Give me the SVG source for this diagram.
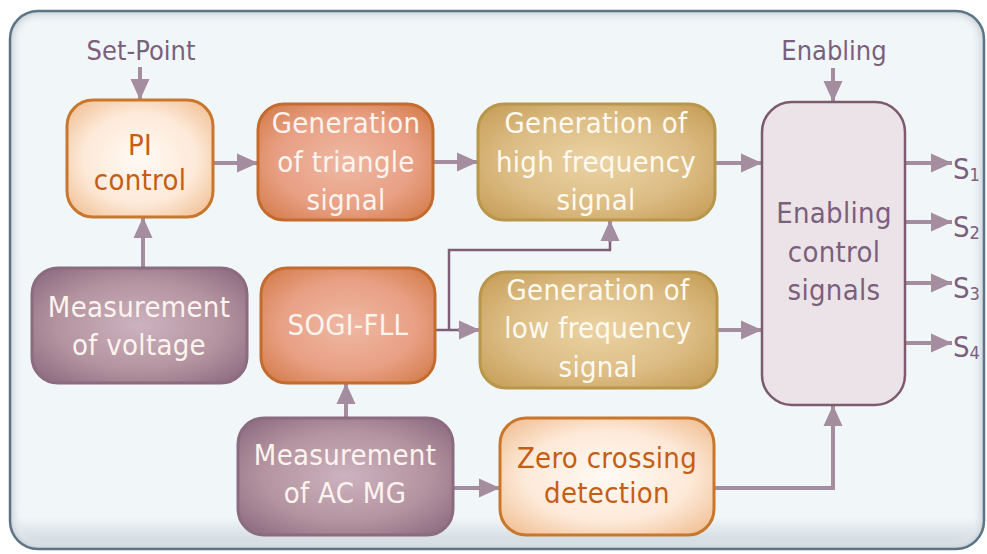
<svg xmlns="http://www.w3.org/2000/svg" width="987" height="554" viewBox="0 0 987 554">
  <defs>
    <style>
      text { font-family: "DejaVu Sans Condensed", "DejaVu Sans", "Liberation Sans", sans-serif; font-stretch: condensed; }
      .lbl { font-size: 29px; letter-spacing: 0.3px; text-anchor: middle; }
      .ext { font-size: 27px; text-anchor: middle; fill: #7b5f7d; }
      .out { font-size: 29px; fill: #7b5f7d; }
      .sub { font-size: 18px; }
      .box { stroke-width: 3; }
      .light { fill: url(#gLight); stroke: #c8772c; }
      .salmon { fill: url(#gSalmon); stroke: #c46b2e; }
      .tan { fill: url(#gTan); stroke: #b8964a; }
      .plum { fill: url(#gPlum); stroke: #8b6b80; }
      .enab { fill: #ebe3e8; stroke: #7c5b71; stroke-width: 2.5; }
      .wire { fill: none; stroke: #a48d9e; stroke-width: 4; }
      .thin { fill: none; stroke: #7d6078; stroke-width: 2.5; }
      .tOrange { fill: #c45e14; }
      .tWhite { fill: #fdf4ee; }
      .tCream { fill: #fffaf0; }
      .tPlum { fill: #7b5f7d; }
    </style>
    <radialGradient id="gLight" cx="50%" cy="50%" r="65%">
      <stop offset="0" stop-color="#fffaf4"/>
      <stop offset="0.6" stop-color="#fde9d8"/>
      <stop offset="1" stop-color="#f1c196"/>
    </radialGradient>
    <radialGradient id="gSalmon" cx="50%" cy="50%" r="65%">
      <stop offset="0" stop-color="#efb8a4"/>
      <stop offset="0.6" stop-color="#e8a084"/>
      <stop offset="1" stop-color="#d57e4e"/>
    </radialGradient>
    <radialGradient id="gTan" cx="50%" cy="50%" r="65%">
      <stop offset="0" stop-color="#ebd3a4"/>
      <stop offset="0.6" stop-color="#dcbc84"/>
      <stop offset="1" stop-color="#c7a05a"/>
    </radialGradient>
    <radialGradient id="gPlum" cx="50%" cy="50%" r="65%">
      <stop offset="0" stop-color="#cdb2bf"/>
      <stop offset="0.6" stop-color="#b3939f"/>
      <stop offset="1" stop-color="#8f6d82"/>
    </radialGradient>
    <linearGradient id="gFrame" x1="0" y1="0" x2="0" y2="1">
      <stop offset="0" stop-color="#f1f7f9"/>
      <stop offset="0.94" stop-color="#f1f7f9"/>
      <stop offset="1" stop-color="#c9d2da"/>
    </linearGradient>
    <filter id="soft" x="-5%" y="-5%" width="110%" height="110%">
      <feGaussianBlur stdDeviation="3"/>
    </filter>
    <clipPath id="frameClip">
      <rect x="10" y="11" width="974" height="538" rx="28"/>
    </clipPath>
    <marker id="ah" markerUnits="userSpaceOnUse" markerWidth="22" markerHeight="22" viewBox="0 0 22 22" refX="21" refY="11" orient="auto">
      <path d="M0,1.5 L21,11 L0,20.5 Z" fill="#a48d9e"/>
    </marker>
  </defs>

  <!-- outer panel -->
  <g id="panel">
    <rect x="10" y="11" width="974" height="538" rx="28" fill="url(#gFrame)"/>
    <g clip-path="url(#frameClip)">
      <rect x="10" y="11" width="974" height="538" rx="28" fill="none" stroke="#b6c3cd" stroke-width="10" filter="url(#soft)"/>
      <rect x="14" y="15" width="966" height="530" rx="25" fill="none" stroke="#ffffff" stroke-width="4" opacity="0.8" filter="url(#soft)"/>
    </g>
    <rect x="10" y="11" width="974" height="538" rx="28" fill="none" stroke="#5d7485" stroke-width="2.5"/>
  </g>

  <!-- connectors -->
  <g id="connectors">
    <line class="wire" x1="140" y1="67" x2="140" y2="100" marker-end="url(#ah)"/>
    <line class="wire" x1="833" y1="68" x2="833" y2="102" marker-end="url(#ah)"/>
    <line class="wire" x1="213" y1="163" x2="258" y2="163" marker-end="url(#ah)"/>
    <line class="wire" x1="433" y1="162" x2="478" y2="162" marker-end="url(#ah)"/>
    <line class="wire" x1="715" y1="163" x2="762" y2="163" marker-end="url(#ah)"/>
    <line class="wire" x1="717" y1="330" x2="762" y2="330" marker-end="url(#ah)"/>
    <line class="wire" x1="143" y1="268" x2="143" y2="217" marker-end="url(#ah)"/>
    <line class="wire" x1="346" y1="418" x2="346" y2="383" marker-end="url(#ah)"/>
    <line class="wire" x1="453" y1="488" x2="500" y2="488" marker-end="url(#ah)"/>
    <polyline class="wire" points="715,488 833,488 833,405" marker-end="url(#ah)"/>
    <line class="thin" x1="435" y1="330" x2="460" y2="330"/>
    <line class="wire" x1="458" y1="330" x2="480" y2="330" marker-end="url(#ah)"/>
    <polyline class="thin" points="449,330 449,250 610,250 610,238"/>
    <line class="wire" x1="610" y1="242" x2="610" y2="220" marker-end="url(#ah)"/>
    <line class="wire" x1="905" y1="163" x2="952" y2="163" marker-end="url(#ah)"/>
    <line class="wire" x1="905" y1="222" x2="952" y2="222" marker-end="url(#ah)"/>
    <line class="wire" x1="905" y1="283" x2="952" y2="283" marker-end="url(#ah)"/>
    <line class="wire" x1="905" y1="343" x2="952" y2="343" marker-end="url(#ah)"/>
  </g>

  <!-- external inputs -->
  <g id="setpoint">
    <text class="ext" x="141" y="60">Set-Point</text>
  </g>
  <g id="enabling-in">
    <text class="ext" x="834" y="60">Enabling</text>
  </g>

  <!-- blocks -->
  <g id="pi-control">
    <rect class="box light" x="67" y="100" width="146" height="117" rx="26"/>
    <text class="lbl tOrange" x="140" y="155">PI</text>
    <text class="lbl tOrange" x="140" y="190">control</text>
  </g>

  <g id="triangle-gen">
    <rect class="box salmon" x="258" y="104" width="175" height="116" rx="26"/>
    <text class="lbl tWhite" x="346" y="133">Generation</text>
    <text class="lbl tWhite" x="346" y="172">of triangle</text>
    <text class="lbl tWhite" x="346" y="210">signal</text>
  </g>

  <g id="high-freq">
    <rect class="box tan" x="478" y="104" width="237" height="116" rx="26"/>
    <text class="lbl tCream" x="596" y="133">Generation of</text>
    <text class="lbl tCream" x="596" y="172">high frequency</text>
    <text class="lbl tCream" x="596" y="210">signal</text>
  </g>

  <g id="voltage-meas">
    <rect class="box plum" x="32" y="268" width="215" height="115" rx="26"/>
    <text class="lbl tWhite" x="139" y="317">Measurement</text>
    <text class="lbl tWhite" x="139" y="355">of voltage</text>
  </g>

  <g id="sogi-fll">
    <rect class="box salmon" x="261" y="268" width="174" height="115" rx="26"/>
    <text class="lbl tWhite" x="348" y="335">SOGI-FLL</text>
  </g>

  <g id="low-freq">
    <rect class="box tan" x="480" y="272" width="237" height="116" rx="26"/>
    <text class="lbl tCream" x="598" y="300">Generation of</text>
    <text class="lbl tCream" x="598" y="338">low frequency</text>
    <text class="lbl tCream" x="598" y="377">signal</text>
  </g>

  <g id="enabling-control">
    <rect class="enab" x="762" y="102" width="143" height="303" rx="30"/>
    <text class="lbl tPlum" x="834" y="223">Enabling</text>
    <text class="lbl tPlum" x="834" y="262">control</text>
    <text class="lbl tPlum" x="834" y="300">signals</text>
  </g>

  <g id="acmg-meas">
    <rect class="box plum" x="238" y="418" width="215" height="117" rx="26"/>
    <text class="lbl tWhite" x="345" y="465">Measurement</text>
    <text class="lbl tWhite" x="345" y="503">of AC MG</text>
  </g>

  <g id="zero-cross">
    <rect class="box light" x="500" y="418" width="214" height="117" rx="26"/>
    <text class="lbl tOrange" x="607" y="468">Zero crossing</text>
    <text class="lbl tOrange" x="607" y="503">detection</text>
  </g>

  <!-- switching outputs -->
  <g id="outputs">
    <text class="out" x="953" y="179">S<tspan class="sub" dy="2">1</tspan></text>
    <text class="out" x="953" y="237">S<tspan class="sub" dy="2">2</tspan></text>
    <text class="out" x="953" y="298">S<tspan class="sub" dy="2">3</tspan></text>
    <text class="out" x="953" y="357">S<tspan class="sub" dy="2">4</tspan></text>
  </g>
</svg>
